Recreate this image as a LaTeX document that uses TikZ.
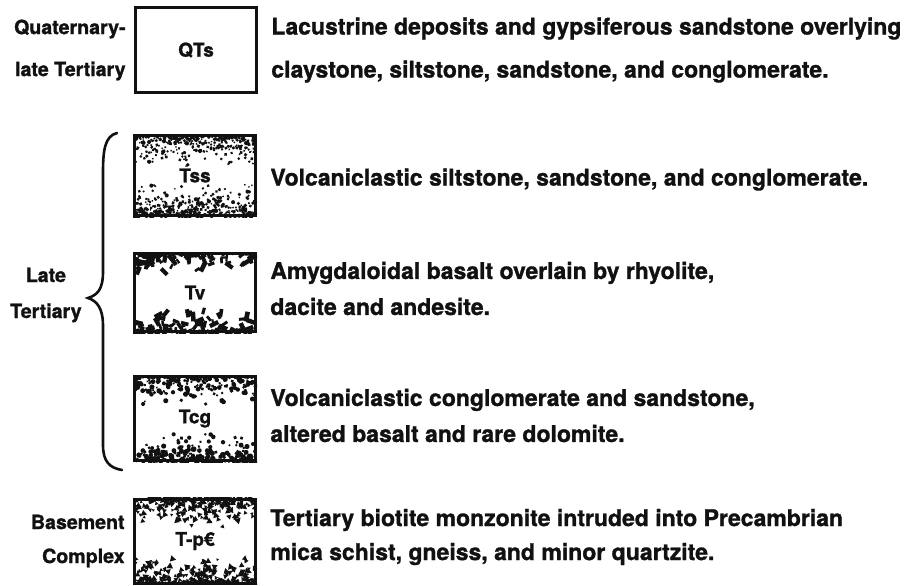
\documentclass[tikz,border=0pt]{standalone}
\usepackage{fontspec}
\setmainfont{TeX Gyre Heros}[BoldFeatures={FakeBold=1.2}]
\usetikzlibrary{positioning,calc}
\definecolor{LegendInk}{HTML}{111111}
\tikzset{
  unitbox/.style={draw=LegendInk, line width=1.5pt, minimum width=60.5pt, inner sep=0pt,
                  font=\fontsize{9.5}{11}\selectfont\bfseries, text=LegendInk},
  era/.style={inner sep=0pt, text=LegendInk},
  descr/.style={inner sep=0pt, align=left, text=LegendInk},
  bracepen/.style={draw=LegendInk, line width=1.3pt, line cap=round},
}
% grains scattered from the top and bottom edges of a unit box
\newcommand{\grainlayer}[4]{%
  \begin{scope}
    \clip (#1.south west) rectangle (#1.north east);
    \foreach \k in {1,...,#2}{
      \pgfmathsetmacro{\gx}{1+122*rnd}
      \pgfmathsetmacro{\gy}{#3*rnd*rnd}
      \pgfmathsetmacro{\gr}{180*rnd}
      \pgfmathsetmacro{\gs}{0.6+0.8*rnd}
      \fill[LegendInk, shift={($(#1.north west)+(\gx,\gy)$)}, rotate=\gr, scale=\gs] #4;
      \pgfmathsetmacro{\gx}{1+122*rnd}
      \pgfmathsetmacro{\gy}{#3*rnd*rnd}
      \pgfmathsetmacro{\gr}{180*rnd}
      \pgfmathsetmacro{\gs}{0.6+0.8*rnd}
      \fill[LegendInk, shift={($(#1.south west)+(\gx,-\gy)$)}, rotate=\gr, scale=\gs] #4;
    }
  \end{scope}}

\begin{document}
\begin{tikzpicture}[x=0.5pt,y=-0.5pt,node distance=6.5pt]
  \useasboundingbox (0,0) rectangle (910,585);
  \pgfmathsetseed{11}
  % unit boxes
  \node[unitbox,minimum height=42.5pt] (qts) at (196,50) {QTs};
  \node[unitbox,minimum height=40pt] (tss) at (195,175.5) {Tss};
  \node[unitbox,minimum height=39pt] (tv) at (195,292.5) {Tv};
  \node[unitbox,minimum height=42pt] (tcg) at (195,418.5) {Tcg};
  \node[unitbox,minimum height=42pt] (tpc) at (195,541) {T-p€};
  \grainlayer{tss}{380}{34}{(0,0) circle (0.75pt)}
  \grainlayer{tv}{95}{25}{(-1.8pt,-0.85pt) rectangle (1.8pt,0.85pt)}
  \grainlayer{tcg}{250}{31}{(0,0) circle (0.95pt)}
  \grainlayer{tpc}{220}{31}{(0,1.3pt) -- (-1.2pt,-0.8pt) -- (1.2pt,-0.8pt) -- cycle}
  % descriptions
  \node[descr,font=\fontsize{11.5}{21.5}\selectfont\bfseries,right=of qts] (qtsnote)
    {Lacustrine deposits and gypsiferous sandstone overlying\\claystone, siltstone, sandstone, and conglomerate.};
  \node[descr,font=\fontsize{11.5}{18}\selectfont\bfseries,right=of tss,yshift=-2pt] (tssnote)
    {Volcaniclastic siltstone, sandstone, and conglomerate.};
  \node[descr,font=\fontsize{11.5}{18}\selectfont\bfseries,right=of tv,yshift=2pt] (tvnote)
    {Amygdaloidal basalt overlain by rhyolite,\\dacite and andesite.};
  \node[descr,font=\fontsize{11.5}{18}\selectfont\bfseries,right=of tcg,yshift=1.5pt] (tcgnote)
    {Volcaniclastic conglomerate and sandstone,\\altered basalt and rare dolomite.};
  \node[descr,font=\fontsize{11.5}{17}\selectfont\bfseries,right=of tpc,yshift=2pt] (tpcnote)
    {Tertiary biotite monzonite intruded into Precambrian\\mica schist, gneiss, and minor quartzite.};
  % ages
  \node[era,align=right,font=\fontsize{9.8}{21}\selectfont\bfseries,left=4pt of qts] (qtsage)
    {Quaternary-\\late Tertiary};
  \node[era,align=right,font=\fontsize{9.8}{17}\selectfont\bfseries,left=4pt of tpc] (tpcage)
    {Basement\\Complex};
  \coordinate (bracetop) at (117,133);
  \coordinate (bracetip) at (88,298);
  \coordinate (bracebot) at (122,470);
  \draw[bracepen] (bracetop) .. controls (105,136) and (103,150) .. (103,172) -- (103,272)
    .. controls (103,290) and (97,295) .. (bracetip)
    .. controls (97,301) and (103,308) .. (103,326) -- (103,445)
    .. controls (103,462) and (110,468) .. (bracebot);
  \node[era,align=center,font=\fontsize{9.8}{18}\selectfont\bfseries,left=3pt of bracetip,yshift=1.5pt] (lateage)
    {Late\\Tertiary};
\end{tikzpicture}
\end{document}
